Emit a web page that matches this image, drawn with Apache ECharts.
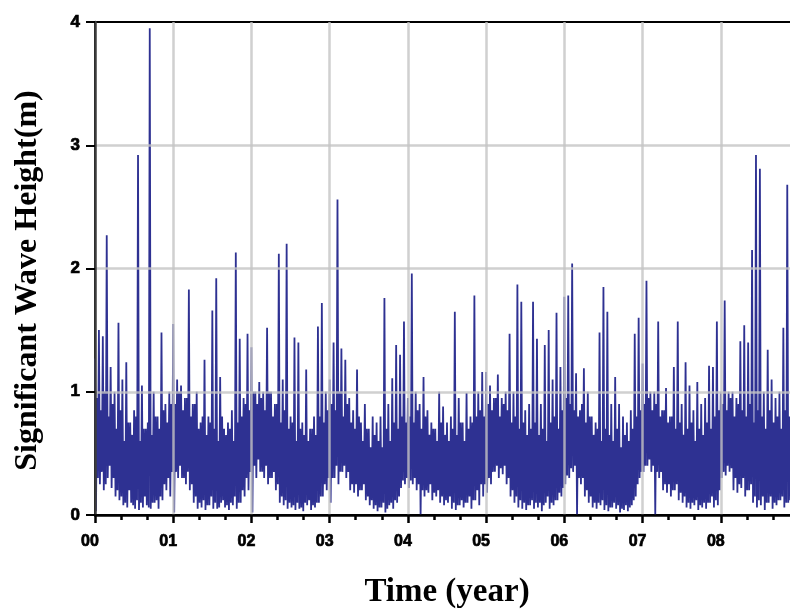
<!DOCTYPE html>
<html>
<head>
<meta charset="utf-8">
<script src="https://cdn.jsdelivr.net/npm/echarts@6/dist/echarts.min.js"></script>
<style>html,body{margin:0;padding:0;background:#fff}#c{width:790px;height:610px}</style>
</head>
<body>
<div id="c"></div>
<script>
// Wave-height record, in metres.
// Every 0.05 year: a main peak, a trough, a secondary peak and a secondary trough.
const peaks = [
  // year 00
  1.27, 1.5, 1.45, 2.27, 1.2, 1.0, 1.56, 1.1, 1.24, 0.75, 0.85, 2.92, 1.05, 0.7, 3.95, 1.0, 0.8, 1.48, 0.9, 1.0,
  // year 01
  1.55, 1.1, 1.05, 0.95, 1.83, 0.9, 1.0, 0.75, 1.26, 0.8, 1.66, 1.92, 1.12, 0.7, 0.75, 0.85, 2.13, 1.43, 0.95, 1.47,
  // year 02
  1.36, 1.0, 1.08, 1.0, 1.52, 1.0, 0.9, 2.12, 1.1, 2.2, 0.8, 1.44, 1.4, 0.75, 1.18, 0.7, 0.8, 1.53, 1.72, 1.0,
  // year 03
  1.1, 1.4, 2.56, 1.35, 1.26, 0.95, 0.85, 1.18, 0.75, 0.9, 0.7, 0.8, 0.75, 0.8, 1.76, 0.9, 1.11, 1.38, 1.3, 1.57,
  // year 04
  0.95, 1.96, 1.0, 0.9, 1.12, 0.85, 0.75, 0.7, 1.0, 0.88, 0.75, 0.8, 1.65, 0.95, 0.75, 0.99, 0.8, 1.78, 1.0, 1.16,
  // year 05
  1.16, 1.05, 0.95, 1.14, 0.95, 1.0, 1.47, 1.0, 1.87, 1.73, 0.85, 0.9, 1.73, 1.43, 0.9, 1.38, 1.5, 1.1, 1.64, 1.2,
  // year 06
  1.77, 1.78, 2.04, 1.15, 0.85, 1.19, 1.0, 0.8, 0.75, 1.48, 1.85, 1.65, 0.9, 1.12, 0.9, 0.8, 0.75, 0.85, 1.47, 1.6,
  // year 07
  1.23, 1.9, 1.0, 1.0, 1.57, 0.85, 1.03, 0.8, 1.2, 1.57, 0.9, 1.24, 1.05, 0.85, 1.08, 0.9, 0.95, 1.21, 1.2, 1.57,
  // year 08
  1.0, 1.74, 1.0, 1.0, 0.95, 1.41, 1.54, 1.4, 2.15, 2.92, 2.81, 1.0, 1.34, 1.1, 0.95, 1.0, 1.52, 2.68
];
const troughs = [
  0.03, 0.25, 0.2, 0.3, 0.22, 0.15, 0.12, 0.08, 0.06, 0.1, 0.05, 0.04, 0.06, 0.08, 0.05, 0.1, 0.05, 0.12, 0.2, 0.15,
  0.02, 0.3, 0.3, 0.25, 0.2, 0.1, 0.05, 0.06, 0.04, 0.08, 0.05, 0.05, 0.1, 0.06, 0.04, 0.08, 0.05, 0.1, 0.15, 0.2,
  0.02, 0.3, 0.35, 0.3, 0.25, 0.3, 0.2, 0.1, 0.08, 0.05, 0.06, 0.04, 0.05, 0.03, 0.08, 0.04, 0.06, 0.1, 0.15, 0.2,
  0.1, 0.3, 0.25, 0.35, 0.3, 0.2, 0.18, 0.15, 0.2, 0.12, 0.08, 0.05, 0.03, 0.06, 0.02, 0.08, 0.05, 0.1, 0.22, 0.25,
  0.22, 0.25, 0.2, 0.0, 0.15, 0.18, 0.12, 0.15, 0.1, 0.08, 0.1, 0.05, 0.04, 0.08, 0.06, 0.1, 0.05, 0.12, 0.08, 0.15,
  0.18, 0.25, 0.35, 0.3, 0.33, 0.25, 0.15, 0.1, 0.06, 0.05, 0.04, 0.08, 0.05, 0.06, 0.03, 0.1, 0.05, 0.08, 0.12, 0.15,
  0.25, 0.3, 0.35, 0.0, 0.25, 0.15, 0.1, 0.06, 0.05, 0.08, 0.04, 0.03, 0.06, 0.05, 0.02, 0.04, 0.03, 0.08, 0.15, 0.3,
  0.35, 0.4, 0.35, 0.0, 0.3, 0.2, 0.18, 0.15, 0.2, 0.12, 0.1, 0.06, 0.05, 0.08, 0.04, 0.06, 0.05, 0.1, 0.06, 0.08,
  0.3, 0.32, 0.35, 0.2, 0.18, 0.22, 0.15, 0.2, 0.1, 0.06, 0.08, 0.04, 0.1, 0.05, 0.08, 0.12, 0.06, 0.1
];
const midPeaks = [
  0.95, 0.85, 1.0, 0.8, 0.9, 0.7, 0.85, 0.6, 0.75, 0.65, 0.8, 0.6, 0.7, 0.75, 0.65, 0.8, 0.7, 0.85, 0.75, 0.9,
  0.9, 1.0, 0.85, 0.95, 0.8, 0.9, 0.7, 0.8, 0.65, 0.75, 0.7, 0.6, 0.8, 0.65, 0.7, 0.6, 0.75, 0.8, 0.9, 0.85,
  1.0, 0.9, 0.95, 0.85, 1.0, 0.8, 0.9, 0.75, 0.85, 0.7, 0.75, 0.6, 0.7, 0.65, 0.6, 0.7, 0.65, 0.8, 0.75, 0.85,
  0.9, 0.85, 1.0, 0.8, 0.9, 0.75, 0.7, 0.8, 0.6, 0.7, 0.55, 0.65, 0.6, 0.55, 0.7, 0.6, 0.75, 0.7, 0.8, 0.75,
  0.8, 0.75, 0.85, 0.7, 0.8, 0.65, 0.7, 0.6, 0.75, 0.65, 0.6, 0.7, 0.65, 0.75, 0.6, 0.7, 0.75, 0.8, 0.85, 0.8,
  0.9, 0.85, 0.95, 0.8, 0.9, 0.85, 0.75, 0.8, 0.7, 0.75, 0.65, 0.7, 0.75, 0.65, 0.7, 0.6, 0.75, 0.8, 0.7, 0.85,
  0.95, 0.9, 0.85, 0.8, 0.9, 0.75, 0.8, 0.65, 0.7, 0.6, 0.7, 0.65, 0.6, 0.7, 0.55, 0.65, 0.6, 0.7, 0.8, 0.85,
  0.9, 0.95, 0.85, 0.9, 0.8, 0.85, 0.75, 0.8, 0.7, 0.75, 0.65, 0.7, 0.75, 0.6, 0.7, 0.65, 0.75, 0.7, 0.8, 0.85,
  0.9, 0.85, 0.95, 0.8, 0.9, 0.85, 0.8, 0.9, 0.75, 0.85, 0.8, 0.7, 0.85, 0.75, 0.8, 0.7, 0.85, 0.8
];
const midTroughs = [
  0.3, 0.35, 0.25, 0.4, 0.3, 0.2, 0.15, 0.1, 0.2, 0.08, 0.12, 0.1, 0.15, 0.06, 0.1, 0.12, 0.15, 0.25, 0.3, 0.35,
  0.35, 0.4, 0.3, 0.35, 0.25, 0.15, 0.1, 0.12, 0.08, 0.15, 0.1, 0.06, 0.12, 0.08, 0.1, 0.15, 0.1, 0.2, 0.3, 0.35,
  0.4, 0.45, 0.35, 0.4, 0.3, 0.35, 0.25, 0.15, 0.12, 0.1, 0.08, 0.1, 0.06, 0.1, 0.12, 0.08, 0.1, 0.15, 0.25, 0.3,
  0.3, 0.4, 0.35, 0.4, 0.35, 0.25, 0.25, 0.2, 0.25, 0.15, 0.12, 0.08, 0.06, 0.1, 0.05, 0.1, 0.12, 0.15, 0.28, 0.3,
  0.28, 0.3, 0.25, 0.2, 0.2, 0.25, 0.18, 0.2, 0.15, 0.12, 0.15, 0.1, 0.08, 0.12, 0.1, 0.15, 0.12, 0.2, 0.25, 0.25,
  0.3, 0.35, 0.4, 0.38, 0.4, 0.3, 0.2, 0.15, 0.12, 0.1, 0.08, 0.12, 0.1, 0.1, 0.08, 0.15, 0.1, 0.12, 0.18, 0.22,
  0.32, 0.38, 0.4, 0.3, 0.3, 0.2, 0.15, 0.1, 0.1, 0.12, 0.08, 0.06, 0.1, 0.08, 0.05, 0.08, 0.06, 0.12, 0.25, 0.35,
  0.4, 0.45, 0.4, 0.35, 0.35, 0.25, 0.25, 0.2, 0.25, 0.18, 0.15, 0.1, 0.1, 0.12, 0.08, 0.1, 0.1, 0.15, 0.12, 0.2,
  0.35, 0.4, 0.38, 0.3, 0.25, 0.3, 0.2, 0.25, 0.15, 0.12, 0.15, 0.1, 0.15, 0.1, 0.12, 0.15, 0.1, 0.12
];
const stepYears = 0.05;
const yTicks = [0, 1, 2, 3, 4];
const xTickLabels = ['00', '01', '02', '03', '04', '05', '06', '07', '08'];
const xTitle = 'Time (year)';
const yTitle = 'Significant Wave Height(m)';

const seriesData = [];
for (let i = 0; i < peaks.length; i++) {
  const t = i * stepYears;
  seriesData.push([t, peaks[i]]);
  seriesData.push([t + stepYears * 0.25, troughs[i]]);
  seriesData.push([t + stepYears * 0.5, midPeaks[i]]);
  seriesData.push([t + stepYears * 0.75, midTroughs[i]]);
}

const chart = echarts.init(document.getElementById('c'), null, {renderer: 'canvas'});
const gridLine = {show: true, showMinLine: false, showMaxLine: false, lineStyle: {color: '#c4c4c4', width: 2.5, opacity: 0.8}};
const tickFont = {fontFamily: 'Liberation Sans', fontWeight: 'bold', color: '#000', textBorderColor: '#000', textBorderWidth: 0.7};
chart.setOption({
  animation: false,
  backgroundColor: '#fff',
  grid: {left: 95, right: -9, top: 22, bottom: 95, containLabel: false, outerBoundsMode: 'none',
         show: true, borderColor: '#000', borderWidth: 2},
  xAxis: {
    type: 'value', min: 0, max: 9, interval: 1, z: 3,
    name: xTitle, nameLocation: 'middle', nameGap: 61,
    nameTextStyle: {fontFamily: 'Liberation Serif', fontWeight: 'bold', fontSize: 33, color: '#000'},
    axisLine: {show: true, lineStyle: {color: '#000', width: 2.5}},
    axisTick: {show: true, length: 8, lineStyle: {color: '#000', width: 2.5}},
    minorTick: {show: true, splitNumber: 3, length: 5, lineStyle: {color: '#000', width: 2.5}},
    axisLabel: Object.assign({
      margin: 19, showMaxLabel: false, padding: [0, 10, 0, 0], fontSize: 16,
      formatter: v => (Number.isInteger(v) && xTickLabels[v] !== undefined) ? xTickLabels[v] : ''
    }, tickFont),
    splitLine: gridLine
  },
  yAxis: {
    type: 'value', min: yTicks[0], max: yTicks[yTicks.length - 1], interval: 1, z: 3,
    name: yTitle, nameLocation: 'middle', nameGap: 51,
    nameTextStyle: {fontFamily: 'Liberation Serif', fontWeight: 'bold', fontSize: 32, color: '#000', padding: [0, 24, 0, 0]},
    axisLine: {show: true, lineStyle: {color: '#3c3c3c', width: 2.5}},
    axisTick: {show: true, length: 9, lineStyle: {color: '#000', width: 2}},
    axisLabel: Object.assign({margin: 15, fontSize: 17}, tickFont),
    splitLine: gridLine
  },
  series: [{
    type: 'line', data: seriesData, showSymbol: false, symbol: 'none', z: 2,
    lineStyle: {color: '#2e3192', width: 1.8}
  }]
});
</script>
</body>
</html>
